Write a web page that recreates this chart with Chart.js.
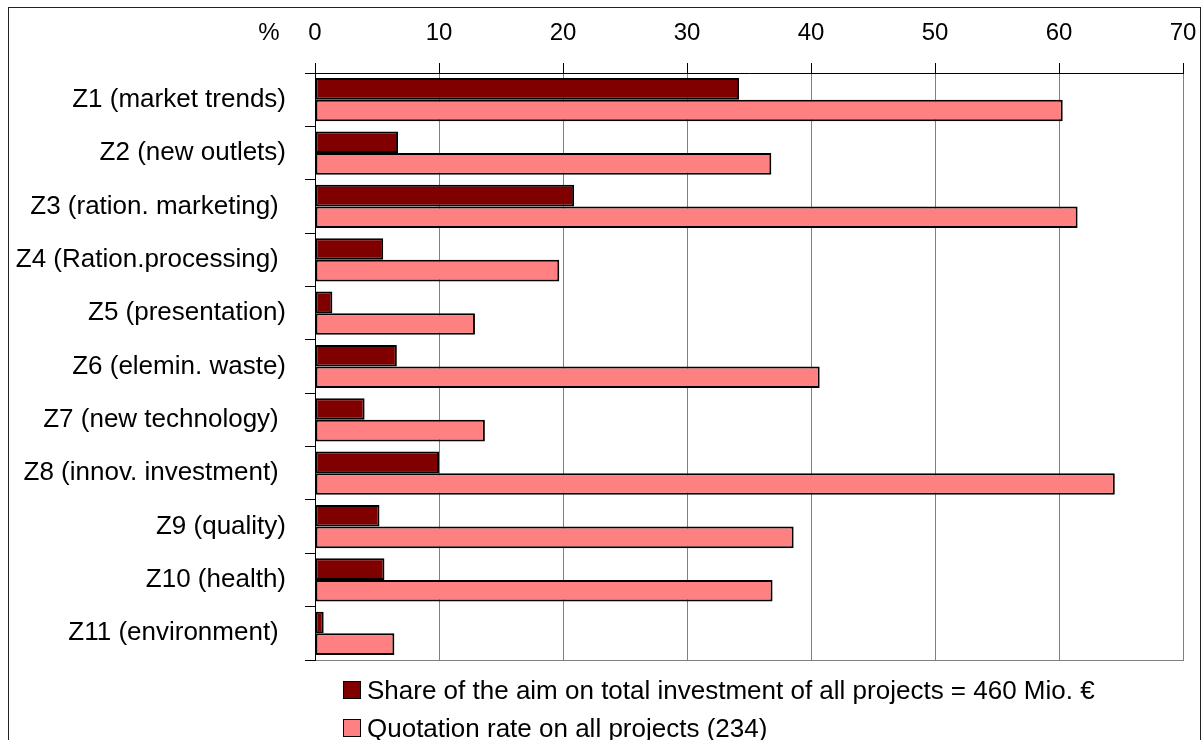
<!DOCTYPE html>
<html>
<head>
<meta charset="utf-8">
<script src="https://cdn.jsdelivr.net/npm/chart.js@4.4.0/dist/chart.umd.min.js"></script>
<style>
  body { margin: 0; background: #fff; font-family: "Liberation Sans", Arial, sans-serif; }
  #frame { position: absolute; left: 8px; top: 7px; width: 1193px; height: 800px; border: 1px solid #222; box-sizing: border-box; }
  #chart { position: absolute; left: 0; top: 0; }
  #legend { position: absolute; left: 343px; top: 671px; }
  .item { display: flex; align-items: center; height: 38px; font-size: 26px; color: #000; white-space: nowrap; }
  .swatch { width: 16px; height: 16px; border: 1px solid #000; margin-right: 6px; }
</style>
</head>
<body>
<div id="frame"></div>
<canvas id="chart" width="1203" height="740"></canvas>
<div id="legend"></div>
<script>
// aims of the projects
const categories = [
  'Z1 (market trends)',
  'Z2 (new outlets)',
  'Z3 (ration. marketing) ',
  'Z4 (Ration.processing) ',
  'Z5 (presentation)',
  'Z6 (elemin. waste)',
  'Z7 (new technology) ',
  'Z8 (innov. investment) ',
  'Z9 (quality)',
  'Z10 (health)',
  'Z11 (environment) '
];

// % share of total investment
const shareInvest = [34.2, 6.7, 20.9, 5.5, 1.4, 6.6, 4.0, 10.0, 5.2, 5.6, 0.7];
// % of projects naming the aim
const quotationRate = [60.3, 36.8, 61.5, 19.7, 12.9, 40.7, 13.7, 64.5, 38.6, 36.9, 6.4];

const seriesLabels = [
  'Share of the aim on total investment of all projects = 460 Mio. €',
  'Quotation rate on all projects (234)'
];
const seriesColors = ['#800000', '#FF8080'];

const xMin = 0, xMax = 70, xStep = 10;
const unitLabel = '%';

Chart.defaults.font.family = '"Liberation Sans", Arial, sans-serif';
Chart.defaults.color = '#000';

// gray frame round the plot area, axes are painted over it
const plotFrame = {
  id: 'plotFrame',
  beforeDraw(chart) {
    const a = chart.chartArea, c = chart.ctx;
    c.save();
    c.strokeStyle = '#808080';
    c.lineWidth = 1;
    c.strokeRect(a.left + 0.5, a.top + 0.5, a.right - a.left, a.bottom - a.top);
    c.restore();
  }
};

// unit label left of the first tick
const unitText = {
  id: 'unitText',
  afterDraw(chart) {
    const x = chart.scales.x, c = chart.ctx;
    c.save();
    c.font = '24px "Liberation Sans", Arial, sans-serif';
    c.fillStyle = '#000';
    c.textAlign = 'center';
    c.textBaseline = 'middle';
    c.fillText(unitLabel, x.getPixelForValue(xMin) - 46, 33);
    c.restore();
  }
};

const ctx = document.getElementById('chart');
const chart = new Chart(ctx, {
  type: 'bar',
  data: {
    labels: categories,
    datasets: [
      {
        label: seriesLabels[0],
        data: shareInvest,
        backgroundColor: seriesColors[0],
        borderColor: '#000',
        borderWidth: 2,
        borderSkipped: false
      },
      {
        label: seriesLabels[1],
        data: quotationRate,
        backgroundColor: seriesColors[1],
        borderColor: '#000',
        borderWidth: 2,
        borderSkipped: false
      }
    ]
  },
  options: {
    indexAxis: 'y',
    responsive: false,
    animation: false,
    categoryPercentage: 0.81,
    barPercentage: 1,
    layout: { padding: { left: 0, right: 20, top: 0, bottom: 80 } },
    plugins: {
      legend: { display: false },
      tooltip: { enabled: false }
    },
    scales: {
      x: {
        position: 'top',
        min: xMin,
        max: xMax,
        ticks: { stepSize: xStep, color: '#000', font: { size: 24 }, padding: 15 },
        grid: {
          color: (c) => (c.tick && c.tick.value === xMin ? '#000' : '#808080'),
          tickColor: '#000',
          tickLength: 10
        },
        border: { color: '#000' },
        afterFit: (s) => {
          s.height = 73;
          s.paddingLeft = 0;
          s.paddingRight = 0;
        }
      },
      y: {
        ticks: { color: '#000', font: { size: 26 }, padding: 19, autoSkip: false },
        grid: { drawOnChartArea: false, offset: true, tickLength: 10, color: '#000' },
        border: { color: '#000' },
        afterFit: (s) => {
          s.width = 315;
          s.paddingTop = 0;
          s.paddingBottom = 0;
        }
      }
    }
  },
  plugins: [plotFrame, unitText]
});

// legend rows, one per series
const legendBox = document.getElementById('legend');
chart.data.datasets.forEach(function (ds) {
  const row = document.createElement('div');
  row.className = 'item';
  row.innerHTML = '<span class="swatch" style="background:' + ds.backgroundColor + '"></span><span>' + ds.label + '</span>';
  legendBox.appendChild(row);
});
</script>
</body>
</html>
